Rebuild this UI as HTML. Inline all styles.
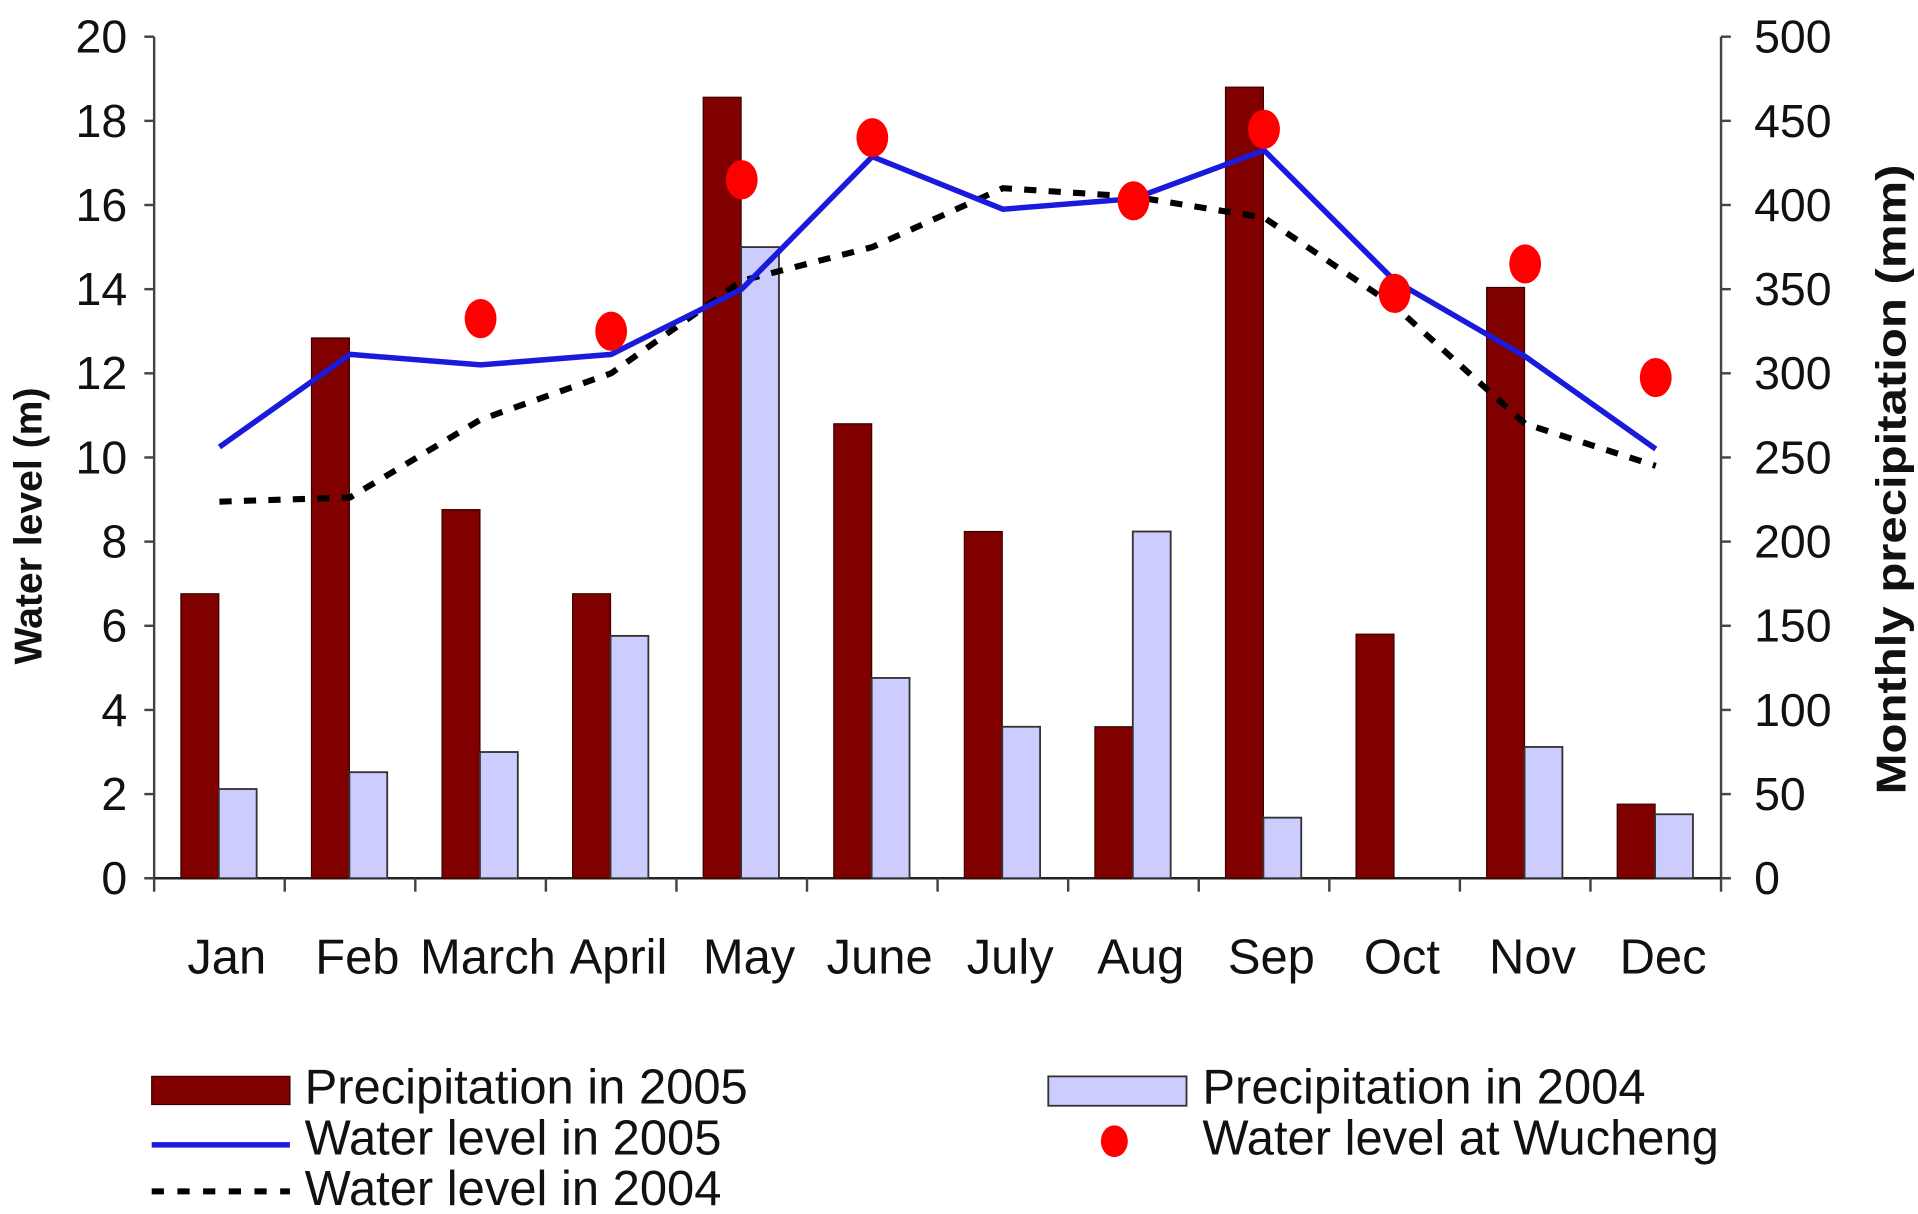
<!DOCTYPE html>
<html><head><meta charset="utf-8"><style>
html,body{margin:0;padding:0;background:#fff;}
svg{display:block;font-family:"Liberation Sans",Arial,sans-serif;}
</style></head><body>
<svg id="chart" width="1918" height="1214" viewBox="0 0 1568 992.5" xmlns="http://www.w3.org/2000/svg">
<g id="axes"></g><g id="bars"></g><g id="lines"></g><g id="legend"></g>
</svg>
<script>
const months = ["Jan","Feb","March","April","May","June","July","Aug","Sep","Oct","Nov","Dec"];
const precip2005 = [169,321,219,169,464,270,206,90,470,145,351,44];
const precip2004 = [53,63,75,144,375,119,90,206,36,0,78,38];
const level2005 = [10.25,12.45,12.2,12.45,14.0,17.15,15.9,16.15,17.3,14.2,12.4,10.2];
const level2004 = [8.95,9.05,10.9,12.0,14.2,15.0,16.4,16.2,15.7,13.6,10.8,9.8];
const wucheng = [null,null,13.3,13.0,16.6,17.6,null,16.1,17.8,13.9,14.6,11.9];
const leftTicks = [0,2,4,6,8,10,12,14,16,18,20];
const rightTicks = [0,50,100,150,200,250,300,350,400,450,500];

const NS="http://www.w3.org/2000/svg";
const X0=126,X1=1407,Y0=718,Y1=30;
const cw=(X1-X0)/months.length;
const yL=v=>Y0-(v/20)*(Y0-Y1);
const yR=v=>Y0-(v/500)*(Y0-Y1);
const xC=i=>X0+cw*(i+0.5);
function mk(tag,attrs,parent,text){const e=document.createElementNS(NS,tag);for(const k in attrs)e.setAttribute(k,attrs[k]);if(text!==undefined)e.textContent=text;parent.appendChild(e);return e;}
const axes=document.getElementById('axes'),bars=document.getElementById('bars'),lines=document.getElementById('lines'),legend=document.getElementById('legend');

let e;
e=mk('line',{x1:X0,y1:Y1,x2:X0,y2:Y0,stroke:'#444','stroke-width':2},axes);


e=mk('line',{x1:X1,y1:Y1,x2:X1,y2:Y0,stroke:'#444','stroke-width':2},axes);


e=mk('line',{x1:X0-8,y1:Y0,x2:X1+8,y2:Y0,stroke:'#222','stroke-width':2},axes);


leftTicks.forEach(v=>{
  mk('line',{x1:X0-8,y1:yL(v),x2:X0,y2:yL(v),stroke:'#444','stroke-width':2},axes);
  e=mk('text',{x:104,y:yL(v)+13,'text-anchor':'end','font-size':38,fill:'#111'},axes,String(v));
  
  
});
rightTicks.forEach(v=>{
  mk('line',{x1:X1,y1:yR(v),x2:X1+8,y2:yR(v),stroke:'#444','stroke-width':2},axes);
  e=mk('text',{x:1434,y:yR(v)+13,'text-anchor':'start','font-size':38,fill:'#111'},axes,String(v));
  
  
});
for(let i=0;i<=months.length;i++){mk('line',{x1:X0+cw*i,y1:Y0,x2:X0+cw*i,y2:Y0+11,stroke:'#444','stroke-width':2},axes);}
months.forEach((m,i)=>{
  e=mk('text',{x:xC(i)+6,y:796,'text-anchor':'middle','font-size':40,fill:'#111'},axes,m);
  
  
});
e=mk('text',{transform:'translate(34,430) rotate(-90)','text-anchor':'middle','font-size':32,'font-weight':'bold',fill:'#111'},axes,'Water level (m)');


e=mk('text',{transform:'translate(1558,392) rotate(-90)','text-anchor':'middle','font-size':34,'font-weight':'bold',fill:'#111','textLength':515,'lengthAdjust':'spacingAndGlyphs'},axes,'Monthly precipitation (mm)');



const bw=cw*0.29, off=cw*0.205;
months.forEach((m,i)=>{
  const x=X0+cw*i+off;
  e=mk('rect',{x:x,y:yR(precip2005[i]),width:bw,height:Y0-yR(precip2005[i]),fill:'#800000',stroke:'#3a0000','stroke-width':1},bars);
  
  
  if(precip2004[i]>0){
  e=mk('rect',{x:x+bw,y:yR(precip2004[i]),width:bw,height:Y0-yR(precip2004[i]),fill:'#ccccff',stroke:'#333','stroke-width':1.5},bars);
  
  
  }
});
e=mk('polyline',{points:level2004.map((v,i)=>xC(i)+','+yL(v)).join(' '),fill:'none',stroke:'#000','stroke-width':5,'stroke-dasharray':'10 10'},lines);


e=mk('polyline',{points:level2005.map((v,i)=>xC(i)+','+yL(v)).join(' '),fill:'none',stroke:'#1a1adc','stroke-width':4.5},lines);


wucheng.forEach((v,i)=>{if(v===null)return;
  e=mk('ellipse',{cx:xC(i),cy:yL(v),rx:13,ry:16,fill:'#ff0000'},lines);
  
  
});

const lf=40;
e=mk('rect',{x:124,y:880,width:113,height:23,fill:'#800000',stroke:'#3a0000'},legend);


e=mk('text',{x:249,y:902,'font-size':lf,fill:'#111'},legend,'Precipitation in 2005');


e=mk('line',{x1:124,y1:936,x2:237,y2:936,stroke:'#1a1adc','stroke-width':4.5},legend);


e=mk('text',{x:249,y:944,'font-size':lf,fill:'#111'},legend,'Water level in 2005');


e=mk('line',{x1:124,y1:974,x2:237,y2:974,stroke:'#000','stroke-width':5,'stroke-dasharray':'10 11'},legend);


e=mk('text',{x:249,y:985,'font-size':lf,fill:'#111'},legend,'Water level in 2004');


e=mk('rect',{x:857,y:880,width:113,height:24,fill:'#ccccff',stroke:'#333','stroke-width':1.5},legend);


e=mk('text',{x:983,y:902,'font-size':lf,fill:'#111'},legend,'Precipitation in 2004');


e=mk('ellipse',{cx:911,cy:933,rx:11,ry:13,fill:'#ff0000'},legend);


e=mk('text',{x:983,y:944,'font-size':lf,fill:'#111'},legend,'Water level at Wucheng');


</script>
</body></html>
